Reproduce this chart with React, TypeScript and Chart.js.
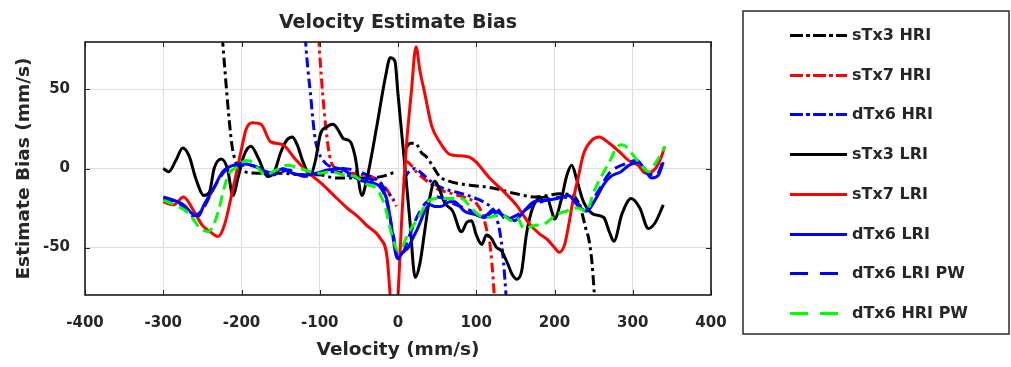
import React, { useEffect, useRef } from 'react';
import { Chart, registerables } from 'chart.js';

Chart.register(...registerables);

const FONT = '"DejaVu Sans", "Liberation Sans", sans-serif';
const TEXT = '#262626';

const xTicks = [-400, -300, -200, -100, 0, 100, 200, 300, 400];
const yTicks = [-50, 0, 50];
const seriesNames = ['sTx3 HRI', 'sTx7 HRI', 'dTx6 HRI', 'sTx3 LRI', 'sTx7 LRI', 'dTx6 LRI', 'dTx6 LRI PW', 'dTx6 HRI PW'];

// sTx3 HRI (black dash-dot); null = break at the pole
const sTx3HRI_v = [-228, -224, -220, -216, -212, -208, -204, -200, -180, -150, -120, -100, -80, -60, -40, -20, -8, -2, 4, 10, 16, 22, 30, 37, 45, 53, 65, 83, 100, 117, 135, 151, 176, 192, 206, 223, 230, 235, 240, 244, 248, 251, 255];
const sTx3HRI_b = [110, 80, 55, 32, 14, 5, 1, -1, -3, -3, -4, -4, -6, -6, -6, -5, -3, -2, null, 13, 16, 16, 10, 7, 1, -5, -8, -10, -11, -12, -14, -16, -18, -17, -16, -17, -21, -28, -38, -45, -60, -80, -105];

// sTx7 HRI (red dash-dot)
const sTx7HRI_v = [-104, -101, -98, -95, -92, -89, -86, -82, -75, -60, -45, -30, -20, -12, -6, -2, 4, 9, 15, 25, 40, 51, 70, 89, 100, 108, 113, 117, 120, 123, 126];
const sTx7HRI_b = [110, 80, 58, 40, 25, 13, 5, 1, -2, -3, -4, -6, -10, -15, -20, -24, null, 5, 3, -3, -9, -13, -16, -19, -22, -29, -38, -46, -60, -80, -105];

// dTx6 HRI (blue dash-dot)
const dTx6HRI_v = [-121, -118, -115, -112, -109, -106, -102, -97, -92, -85, -70, -55, -40, -25, -15, -5, 2, 7, 14, 22, 30, 47, 60, 75, 89, 100, 112, 123, 128, 132, 135, 138, 141];
const dTx6HRI_b = [110, 80, 62, 48, 32, 19, 11, 6, 3, 1, 0, -1, -4, -8, -14, -20, null, -7, -2, 0, -3, -10, -13, -15, -17, -19, -22, -27, -35, -46, -60, -80, -105];

// sTx3 LRI (black solid)
const sTx3LRI_v = [-300, -293, -284, -275, -267, -258, -248, -241, -235, -226, -218, -211, -204, -197, -188, -178, -167, -158, -150, -142, -135, -128, -122, -112, -106, -99, -92, -83, -76, -70, -61, -55, -46, -40, -35, -27, -16, -10, -4, 0, 5, 10, 15, 22, 28, 34, 40, 47, 52, 60, 70, 81, 88, 94, 100, 107, 113, 119, 126, 132, 140, 146, 152, 158, 164, 172, 180, 190, 197, 200, 208, 216, 222, 229, 237, 250, 263, 270, 276, 286, 298, 309, 320, 329, 339];
const sTx3LRI_b = [0, -2, 5, 13, 8, -7, -17, -15, 0, 6, 0, -17, -5, 8, 14, 6, -5, -2, 10, 18, 20, 14, 5, -4, 4, 22, 26, 28, 24, 19, 17, 8, -17, -7, 5, 27, 58, 70, 68, 47, 21, -5, -32, -69, -60, -40, -20, -8, -12, -22, -27, -40, -34, -33, -42, -48, -42, -44, -50, -52, -60, -67, -70, -65, -42, -25, -19, -18, -28, -32, -21, -4, 2, -8, -21, -29, -31, -40, -46, -29, -19, -25, -38, -34, -23];

// sTx7 LRI (red solid)
const sTx7LRI_v = [-300, -287, -274, -262, -250, -240, -230, -222, -211, -201, -194, -186, -175, -163, -147, -133, -116, -99, -80, -65, -50, -40, -23, -14, -10, -5, 0, 5, 11, 17, 23, 28, 34, 43, 53, 66, 80, 92, 100, 117, 134, 151, 168, 180, 191, 200, 206, 213, 218, 223, 231, 237, 248, 257, 270, 282, 295, 307, 316, 329, 337, 341];
const sTx7LRI_b = [-21, -23, -18, -26, -36, -40, -43, -36, -13, 10, 25, 29, 28, 17, 15, 7, -2, -9, -18, -25, -31, -36, -44, -56, -80, -110, -80, -30, 16, 48, 77, 62, 48, 27, 17, 9, 8, 7, 4, -6, -14, -23, -35, -41, -45, -50, -53, -48, -36, -22, -4, 9, 18, 20, 16, 11, 5, 2, -3, 0, 8, 14];

// dTx6 LRI (blue solid)
const dTx6LRI_v = [-300, -287, -274, -262, -255, -248, -236, -224, -211, -198, -186, -173, -160, -147, -135, -120, -105, -90, -75, -60, -45, -32, -22, -14, -8, -3, 0, 6, 13, 20, 25, 30, 34, 41, 47, 55, 66, 72, 85, 98, 110, 123, 136, 149, 161, 174, 191, 203, 218, 229, 241, 253, 263, 272, 285, 295, 307, 316, 324, 333, 339];
const dTx6LRI_b = [-18, -20, -23, -29, -30, -23, -13, -2, 2, 3, 2, -1, -3, 0, -3, -4, -3, -1, 0, -4, -8, -9, -12, -20, -38, -54, -57, -53, -50, -43, -38, -32, -27, -23, -24, -24, -21, -21, -27, -29, -31, -27, -30, -33, -27, -21, -20, -19, -17, -23, -27, -19, -10, -5, -2, 2, 4, -1, -6, -4, 4];

// dTx6 LRI PW (blue dashed)
const dTx6LRIPW_v = [-300, -280, -262, -250, -235, -220, -200, -180, -160, -140, -120, -100, -80, -60, -45, -30, -15, -5, 0, 5, 15, 25, 35, 50, 70, 90, 110, 125, 138, 150, 170, 190, 210, 225, 240, 255, 270, 290, 305, 320, 330, 340];
const dTx6LRIPW_b = [-19, -22, -30, -26, -12, -1, 2, 1, -4, -1, -5, -3, -2, -5, -6, -8, -20, -45, -57, -55, -42, -30, -22, -18, -22, -26, -30, -25, -32, -30, -24, -20, -18, -20, -26, -15, -3, 3, 5, -3, -4, 6];

// dTx6 HRI PW (green dashed)
const dTx6HRIPW_v = [-300, -290, -281, -268, -254, -243, -236, -229, -222, -217, -205, -194, -186, -169, -156, -141, -125, -112, -99, -86, -70, -55, -40, -27, -16, -10, -5, 0, 5, 13, 25, 38, 51, 69, 81, 92, 102, 114, 132, 145, 152, 161, 174, 187, 203, 215, 229, 241, 250, 261, 270, 278, 285, 291, 298, 311, 320, 327, 337, 341];
const dTx6HRIPW_b = [-20, -22, -24, -28, -37, -40, -36, -26, -12, -4, 1, 5, 4, -4, -1, 2, 0, -2, -3, -2, -4, -5, -10, -13, -25, -38, -47, -52, -50, -41, -32, -21, -19, -19, -19, -24, -29, -31, -29, -33, -31, -38, -36, -35, -29, -27, -25, -27, -15, -4, 4, 12, 15, 14, 10, 2, -2, 2, 10, 14];

const BLACK = '#000000';
const RED = '#ff0000';
const BLUE = '#0000ff';
const GREEN = '#00ff00';

const DASHDOT = [10, 4, 3, 4];
const DASHED = [11, 6];

const seriesDefs = [
  { v: sTx3HRI_v, b: sTx3HRI_b, color: BLACK, dash: DASHDOT, legendDash: [13, 3, 4, 3] },
  { v: sTx7HRI_v, b: sTx7HRI_b, color: RED, dash: DASHDOT, legendDash: [13, 3, 4, 3] },
  { v: dTx6HRI_v, b: dTx6HRI_b, color: BLUE, dash: DASHDOT, legendDash: [13, 3, 4, 3] },
  { v: sTx3LRI_v, b: sTx3LRI_b, color: BLACK, dash: [], legendDash: [] },
  { v: sTx7LRI_v, b: sTx7LRI_b, color: RED, dash: [], legendDash: [] },
  { v: dTx6LRI_v, b: dTx6LRI_b, color: BLUE, dash: [], legendDash: [] },
  { v: dTx6LRIPW_v, b: dTx6LRIPW_b, color: BLUE, dash: DASHED, legendDash: [18, 12] },
  { v: dTx6HRIPW_v, b: dTx6HRIPW_b, color: GREEN, dash: DASHED, legendDash: [18, 12] },
];

const frameAndLegend = {
  id: 'frameAndLegend',
  afterDatasetsDraw(chart: any) {
    const { ctx, chartArea } = chart;
    const xs = chart.scales.x;
    const ys = chart.scales.y;
    ctx.save();
    // inward ticks on all four sides
    ctx.strokeStyle = TEXT;
    ctx.lineWidth = 1;
    const tl = 5;
    ctx.beginPath();
    xTicks.forEach((t) => {
      const px = Math.round(xs.getPixelForValue(t)) + 0.5;
      ctx.moveTo(px, chartArea.bottom);
      ctx.lineTo(px, chartArea.bottom - tl);
      ctx.moveTo(px, chartArea.top);
      ctx.lineTo(px, chartArea.top + tl);
    });
    yTicks.forEach((t) => {
      const py = Math.round(ys.getPixelForValue(t)) + 0.5;
      ctx.moveTo(chartArea.left, py);
      ctx.lineTo(chartArea.left + tl, py);
      ctx.moveTo(chartArea.right, py);
      ctx.lineTo(chartArea.right - tl, py);
    });
    ctx.stroke();
    // box
    ctx.strokeStyle = '#1a1a1a';
    ctx.lineWidth = 1.6;
    ctx.strokeRect(chartArea.left, chartArea.top, chartArea.right - chartArea.left, chartArea.bottom - chartArea.top);
    ctx.restore();
  },
  afterDraw(chart: any) {
    const { ctx, chartArea } = chart;
    ctx.save();
    const left = chartArea.right + 32;
    const top = 11;
    const right = chart.width - 2;
    const bottom = 334;
    ctx.strokeStyle = '#2a2a2a';
    ctx.lineWidth = 1.5;
    ctx.strokeRect(left, top, right - left, bottom - top);
    const rowH = 39.7;
    ctx.font = `bold 16px ${FONT}`;
    ctx.textBaseline = 'middle';
    ctx.textAlign = 'left';
    seriesDefs.forEach((s, i) => {
      const y = Math.round(35 + i * rowH) + 0.5;
      ctx.beginPath();
      ctx.setLineDash(s.legendDash);
      ctx.strokeStyle = s.color;
      ctx.lineWidth = 3;
      ctx.moveTo(left + 47, y);
      ctx.lineTo(left + 104, y);
      ctx.stroke();
      ctx.setLineDash([]);
      ctx.fillStyle = TEXT;
      ctx.fillText(seriesNames[i], left + 109, y);
    });
    ctx.restore();
  },
};

export default function App() {
  const ref = useRef<HTMLCanvasElement | null>(null);
  useEffect(() => {
    if (!ref.current) return;
    const datasets = seriesDefs.map((s, i) => ({
      label: seriesNames[i],
      data: s.v.map((x, j) => ({ x, y: s.b[j] })),
      borderColor: s.color,
      backgroundColor: s.color,
      borderDash: s.dash,
      borderWidth: 3,
      pointRadius: 0,
      fill: false,
      spanGaps: false,
      cubicInterpolationMode: 'monotone' as const,
      borderJoinStyle: 'round' as const,
      order: seriesDefs.length - i,
    }));
    const chart = new Chart(ref.current, {
      type: 'line',
      data: { datasets },
      plugins: [frameAndLegend],
      options: {
        animation: false,
        responsive: false,
        devicePixelRatio: 1,
        layout: { padding: { left: 0, right: 300, top: 0, bottom: 0 } },
        plugins: {
          legend: { display: false },
          tooltip: { enabled: false },
          title: {
            display: true,
            text: 'Velocity Estimate Bias',
            fullSize: false,
            color: TEXT,
            font: { family: FONT, size: 19, weight: 'bold' },
            padding: { top: 12, bottom: 7.2 },
          },
        },
        scales: {
          x: {
            type: 'linear',
            min: -400,
            max: 400,
            afterFit: (s: any) => { s.height = 72; },
            afterBuildTicks: (s: any) => { s.ticks = xTicks.map((value) => ({ value })); },
            ticks: { color: TEXT, font: { family: FONT, size: 15, weight: 'bold' }, padding: 19.5, maxRotation: 0, autoSkip: false },
            grid: { color: '#dedede', lineWidth: 1, drawTicks: false },
            border: { display: false },
            title: { display: true, text: 'Velocity (mm/s)', color: TEXT, font: { family: FONT, size: 18.5, weight: 'bold' }, padding: { top: 0, bottom: 6 } },
          },
          y: {
            type: 'linear',
            min: -80,
            max: 80,
            afterFit: (s: any) => { s.width = 85; },
            afterBuildTicks: (s: any) => { s.ticks = yTicks.map((value) => ({ value })); },
            ticks: { color: TEXT, font: { family: FONT, size: 15, weight: 'bold' }, padding: 15 },
            grid: { color: '#dedede', lineWidth: 1, drawTicks: false },
            border: { display: false },
            title: { display: true, text: 'Estimate Bias (mm/s)', color: TEXT, font: { family: FONT, size: 18.5, weight: 'bold' }, padding: { top: 13, bottom: 0 } },
          },
        },
      } as any,
    });
    return () => chart.destroy();
  }, []);
  return (
    <div style={{ position: 'absolute', left: 0, top: 0, width: 1011, height: 367, background: '#ffffff' }}>
      <canvas ref={ref} width={1011} height={367} style={{ display: 'block', width: 1011, height: 367 }} />
    </div>
  );
}
